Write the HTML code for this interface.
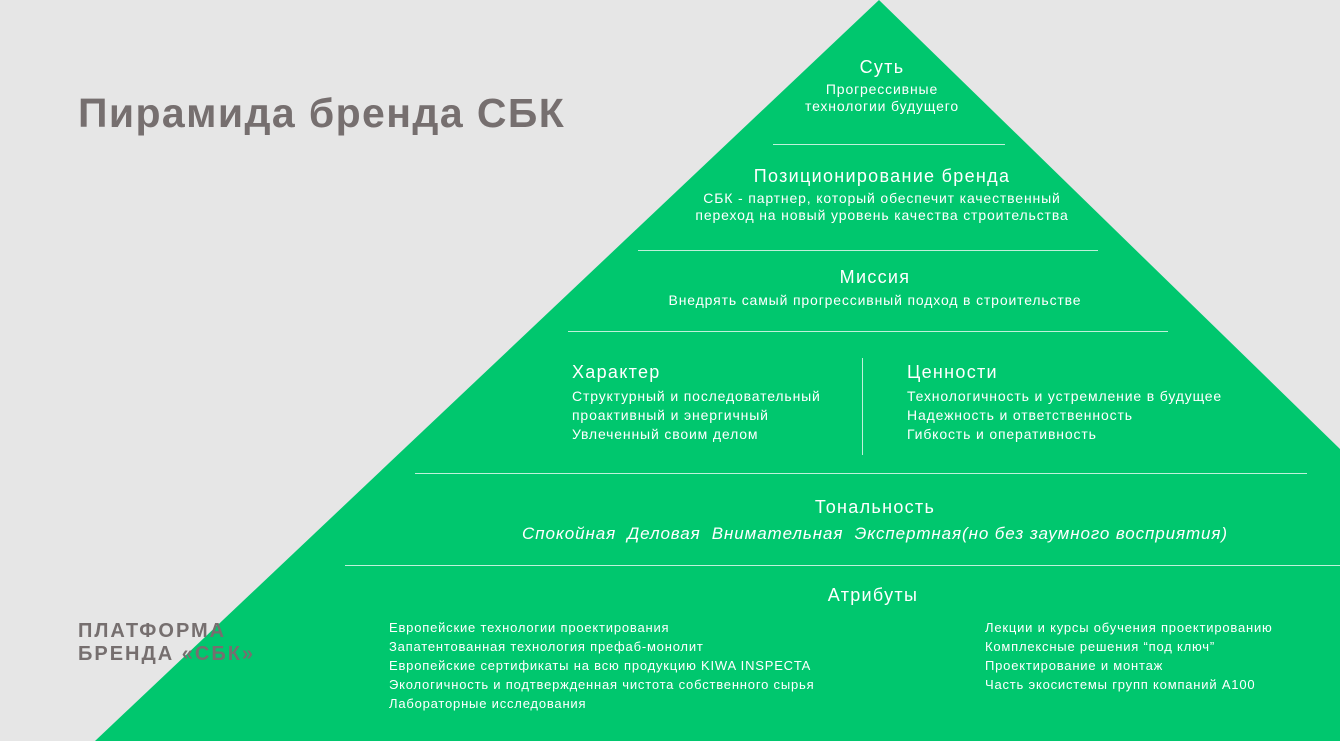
<!DOCTYPE html>
<html><head><meta charset="utf-8"><style>
html,body{margin:0;padding:0}
body{width:1340px;height:741px;position:relative;overflow:hidden;background:#e6e6e6;font-family:"Liberation Sans","DejaVu Sans",sans-serif;color:#fff}
.t{position:absolute;white-space:nowrap}
.c{transform:translateX(-50%);text-align:center}
.h{font-size:18px;letter-spacing:1.3px}
.s{font-size:14px;line-height:19px;letter-spacing:0.85px}
.l{position:absolute;height:1px;background:rgba(255,255,255,0.75)}
</style></head><body>
<svg width="1340" height="741" style="position:absolute;left:0;top:0"><polygon points="879,0 1340,449 1340,741 95,741" fill="#00c76e"/></svg>
<div class="t" style="left:78px;top:90px;font-size:41px;font-weight:bold;color:#766f6f;letter-spacing:1.4px">Пирамида бренда СБК</div>
<div class="t" style="left:78px;top:620px;font-size:20px;font-weight:bold;color:#766f6f;line-height:23px;letter-spacing:2px">ПЛАТФОРМА<br>БРЕНДА «СБК»</div>

<div class="t c h" style="left:882px;top:57px">Суть</div>
<div class="t c s" style="left:882px;top:81px;line-height:17px">Прогрессивные<br>технологии будущего</div>
<div class="l" style="left:773px;top:144px;width:232px"></div>

<div class="t c h" style="left:882px;top:166px">Позиционирование бренда</div>
<div class="t c s" style="left:882px;top:190px;line-height:17px">СБК - партнер, который обеспечит качественный<br>переход на новый уровень качества строительства</div>
<div class="l" style="left:638px;top:250px;width:460px"></div>

<div class="t c h" style="left:875px;top:267px">Миссия</div>
<div class="t c s" style="left:875px;top:291px">Внедрять самый прогрессивный подход в строительстве</div>
<div class="l" style="left:568px;top:331px;width:600px"></div>

<div class="t h" style="left:572px;top:362px">Характер</div>
<div class="t s" style="left:572px;top:387px">Структурный и последовательный<br>проактивный и энергичный<br>Увлеченный своим делом</div>
<div class="l" style="left:862px;top:358px;width:1px;height:97px"></div>
<div class="t h" style="left:907px;top:362px">Ценности</div>
<div class="t s" style="left:907px;top:387px">Технологичность и устремление в будущее<br>Надежность и ответственность<br>Гибкость и оперативность</div>
<div class="l" style="left:415px;top:473px;width:892px"></div>

<div class="t c h" style="left:875px;top:497px">Тональность</div>
<div class="t c" style="left:875px;top:524px;font-size:17px;font-style:italic;letter-spacing:0.9px">Спокойная&nbsp; Деловая&nbsp; Внимательная&nbsp; Экспертная(но без заумного восприятия)</div>
<div class="l" style="left:345px;top:565px;width:995px"></div>

<div class="t c h" style="left:873px;top:585px">Атрибуты</div>
<div class="t s" style="left:389px;top:618px;font-size:13px;letter-spacing:0.8px">Европейские технологии проектирования<br>Запатентованная технология префаб-монолит<br>Европейские сертификаты на всю продукцию KIWA INSPECTA<br>Экологичность и подтвержденная чистота собственного сырья<br>Лабораторные исследования</div>
<div class="t s" style="left:985px;top:618px;font-size:13px;letter-spacing:0.8px">Лекции и курсы обучения проектированию<br>Комплексные решения “под ключ”<br>Проектирование и монтаж<br>Часть экосистемы групп компаний A100</div>
</body></html>
